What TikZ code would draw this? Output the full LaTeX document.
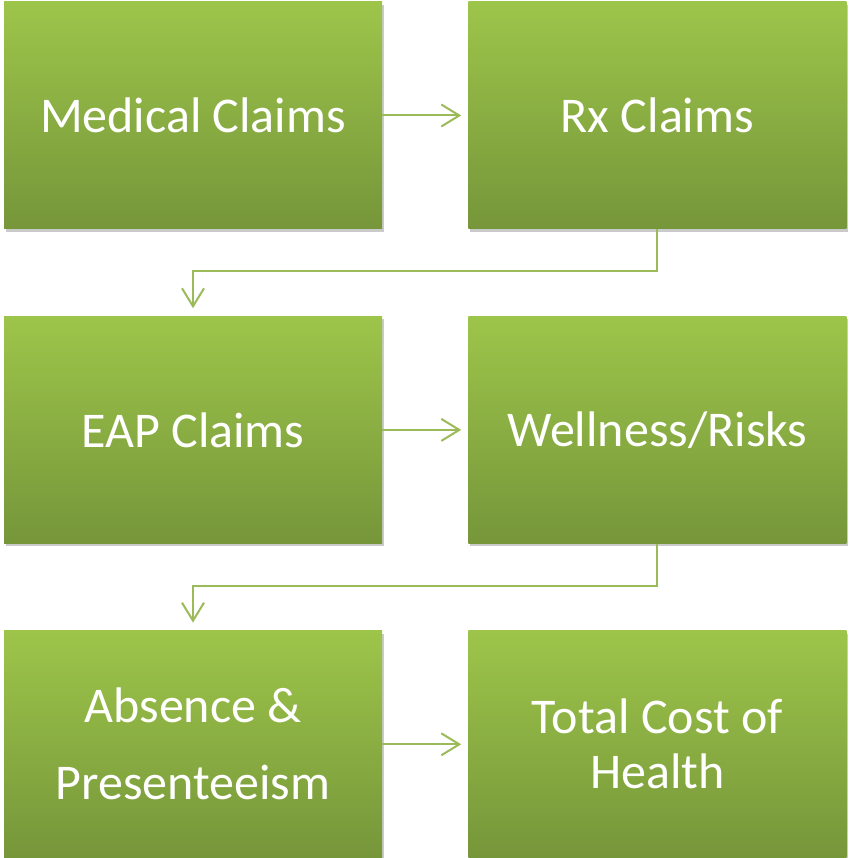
\documentclass[tikz,border=0pt]{standalone}
\usepackage{fontspec}
\setmainfont{Carlito}
\usetikzlibrary{positioning,shadows,arrows.meta}
\definecolor{boxtop}{HTML}{9DC54A}
\definecolor{boxbot}{HTML}{76963A}
\definecolor{linkcol}{HTML}{9BBB59}
\begin{document}
\begin{tikzpicture}[x=1pt, y=1pt,
		box/.style={rectangle, minimum width=378pt, minimum height=227pt, inner sep=0pt,
			top color=boxtop, bottom color=boxbot, text=white, align=center,
			font=\fontsize{50}{55}\selectfont,
			drop shadow={shadow xshift=2pt, shadow yshift=-3pt, opacity=0.35, fill=black!60}},
		link/.style={draw=linkcol, line width=2pt, -{Straight Barb[length=18pt, width=22pt, line width=2pt]}},
		node distance=87pt and 86pt]
	\useasboundingbox (0,0) rectangle (848,-858);
	% first row
	\node[box] (med) at (193,-115.5) {Medical Claims};
	\node[box, right=of med] (rx) {Rx Claims};
	% second row
	\node[box, below=of med] (eap) {EAP Claims};
	\node[box, right=of eap] (well) {Wellness/Risks};
	% third row
	\node[box, below=of eap, font=\fontsize{50}{77}\selectfont] (abs) {Absence \&\\Presenteeism};
	\node[box, right=of abs] (tot) {Total Cost of\\Health};
	% connectors
	\draw[link, shorten >=7pt] (med) -- (rx);
	\draw[link, shorten >=8pt] (rx.south) -- ++(0,-42) -| (eap.north);
	\draw[link, shorten >=7pt] (eap) -- (well);
	\draw[link, shorten >=8pt] (well.south) -- ++(0,-42) -| (abs.north);
	\draw[link, shorten >=7pt] (abs) -- (tot);
\end{tikzpicture}
\end{document}
